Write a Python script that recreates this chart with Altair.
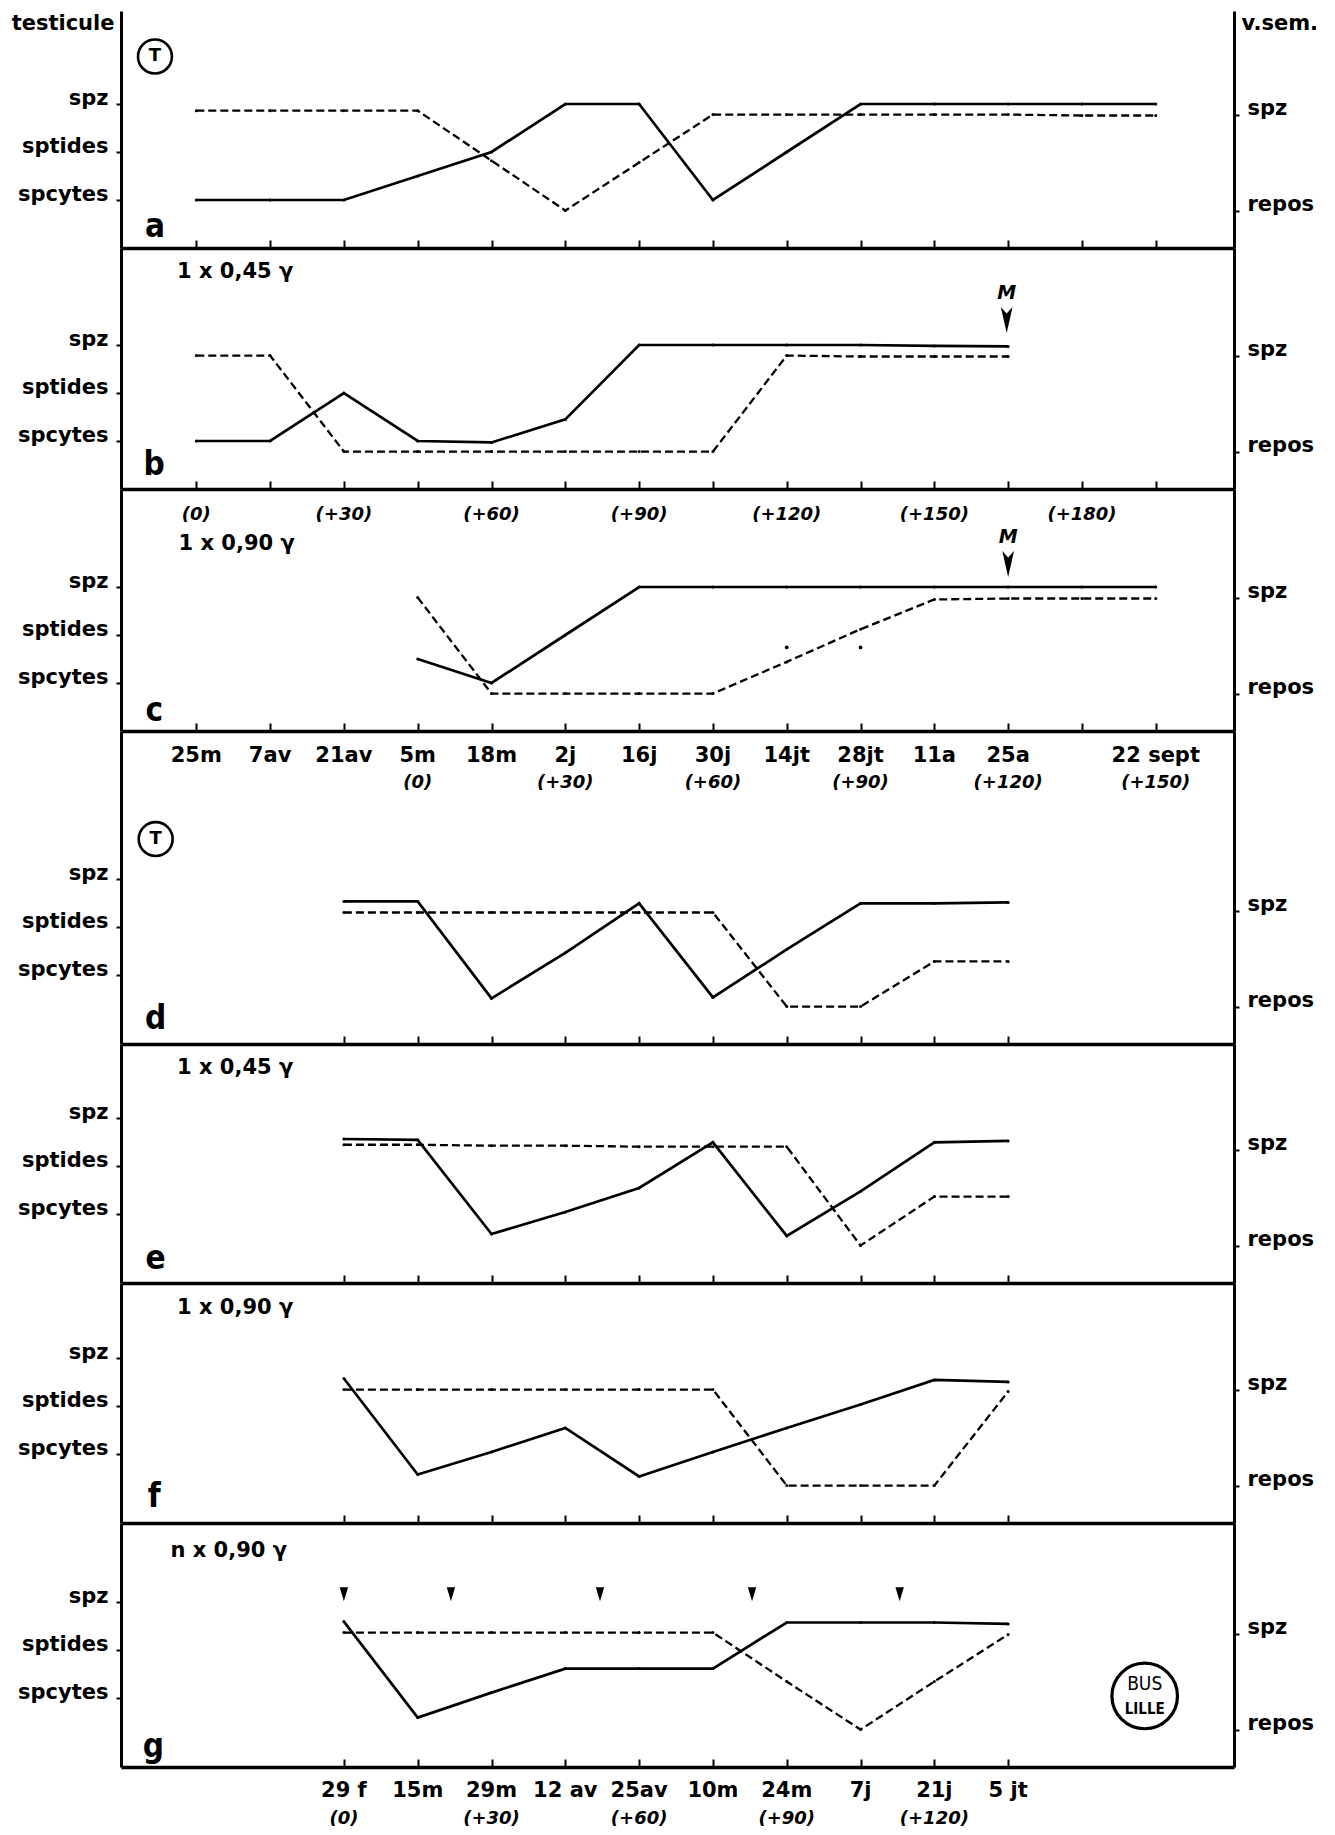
import altair as alt
import pandas as pd

# ---------------- data (x = index of the date tick, 0 = 25m) ----------------
# testicule level: 1 = spcytes, 2 = sptides, 3 = spz ; v.sem. level: 0 = repos, 1 = spz
A_T_X = [0, 1, 2, 3, 4, 5, 6, 7, 8, 9, 10, 11, 12, 13]
A_T_Y = [1, 1, 1, 1.5, 2, 3, 3, 1, 2, 3, 3, 3, 3, 3]
A_V_X = [0, 1, 2, 3, 4, 5, 6, 7, 8, 9, 10, 11, 12, 13]
A_V_Y = [1.04, 1.04, 1.04, 1.04, 0.52, 0, 0.5, 1.0, 1.0, 1.0, 1.0, 1.0, 0.99, 0.99]

B_T_X = [0, 1, 2, 3, 4, 5, 6, 7, 8, 9, 10, 11]
B_T_Y = [1, 1, 2, 1, 0.97, 1.45, 3, 3, 3, 3, 2.98, 2.97]
B_V_X = [0, 1, 2, 3, 4, 5, 6, 7, 8, 9, 10, 11]
B_V_Y = [1.0, 1.0, 0, 0, 0, 0, 0, 0, 1.0, 0.99, 0.99, 0.99]

C_T_X = [3, 4, 5, 6, 7, 8, 9, 10, 11, 12, 13]
C_T_Y = [1.5, 1, 2, 3, 3, 3, 3, 3, 3, 3, 3]
C_V_X = [3, 4, 5, 6, 7, 8, 9, 10, 11, 12, 13]
C_V_Y = [1.0, 0, 0, 0, 0, 0.33, 0.67, 0.98, 0.99, 0.99, 0.99]
C_DOT_X = [8, 9]
C_DOT_Y = [0.48, 0.48]

D_T_X = [2, 3, 4, 5, 6, 7, 8, 9, 10, 11]
D_T_Y = [2.54, 2.54, 0.52, 1.47, 2.5, 0.54, 1.54, 2.5, 2.5, 2.52]
D_V_X = [2, 3, 4, 5, 6, 7, 8, 9, 10, 11]
D_V_Y = [0.98, 0.98, 0.98, 0.98, 0.98, 0.98, 0, 0, 0.47, 0.47]

E_T_X = [2, 3, 4, 5, 6, 7, 8, 9, 10, 11]
E_T_Y = [2.57, 2.55, 0.59, 1.05, 1.55, 2.5, 0.55, 1.48, 2.5, 2.53]
E_V_X = [2, 3, 4, 5, 6, 7, 8, 9, 10, 11]
E_V_Y = [1.05, 1.05, 1.04, 1.04, 1.03, 1.03, 1.03, 0, 0.51, 0.51]

F_T_X = [2, 3, 4, 5, 6, 7, 8, 9, 10, 11]
F_T_Y = [2.58, 0.58, 1.05, 1.55, 0.54, 1.05, 1.55, 2.04, 2.55, 2.51]
F_V_X = [2, 3, 4, 5, 6, 7, 8, 9, 10, 11]
F_V_Y = [1.0, 1.0, 1.0, 1.0, 1.0, 1.0, 0, 0, 0, 0.98]

G_T_X = [2, 3, 4, 5, 6, 7, 8, 9, 10, 11]
G_T_Y = [2.6, 0.6, 1.12, 1.62, 1.62, 1.62, 2.58, 2.58, 2.58, 2.55]
G_V_X = [2, 3, 4, 5, 6, 7, 8, 9, 10, 11]
G_V_Y = [1.01, 1.01, 1.01, 1.01, 1.01, 1.01, 0.5, 0, 0.5, 0.99]
G_ARROW_X = [2, 3.45, 5.47, 7.53, 9.53]

# tick labels
C_DATES = ["25m", "7av", "21av", "5m", "18m", "2j", "16j", "30j", "14jt", "28jt", "11a", "25a", "22 sept"]
C_DATES_X = [0, 1, 2, 3, 4, 5, 6, 7, 8, 9, 10, 11, 13]
C_DAYS = ["(0)", "(+30)", "(+60)", "(+90)", "(+120)", "(+150)"]
C_DAYS_X = [3, 5, 7, 9, 11, 13]
B_DAYS = ["(0)", "(+30)", "(+60)", "(+90)", "(+120)", "(+150)", "(+180)"]
B_DAYS_X = [0, 2, 4, 6, 8, 10, 12]
G_DATES = ["29 f", "15m", "29m", "12 av", "25av", "10m", "24m", "7j", "21j", "5 jt"]
G_DATES_X = [2, 3, 4, 5, 6, 7, 8, 9, 10, 11]
G_DAYS = ["(0)", "(+30)", "(+60)", "(+90)", "(+120)"]
G_DAYS_X = [2, 4, 6, 8, 10]

TICKS_ALL = list(range(14))
TICKS_LOW = list(range(2, 12))

# ---------------- layout ----------------
X_DOMAIN = [-1.02, 14.06]
PLOT_W = 1113
UNIT_L = 48.0
UNIT_R = 96.0
R_LO = -0.39
FONT = "DejaVu Sans"
NARROW = "Liberation Sans Narrow, DejaVu Sans Condensed, DejaVu Sans"
ARROW_M = "M-0.45,-1L0,-0.5L0.45,-1L0,1Z"
ARROW_S = "M-0.6,-1L0.6,-1L0,1Z"
LAB = 21


def xenc(ticks):
    if ticks is None:
        return alt.X("x:Q", scale=alt.Scale(domain=X_DOMAIN, nice=False, zero=False), axis=None)
    ax = alt.Axis(orient="top", values=ticks, labels=False, ticks=True, tickSize=8,
                  tickWidth=2, tickColor="black", domainWidth=3.5, domainColor="black",
                  grid=False, title=None)
    return alt.X("x:Q", scale=alt.Scale(domain=X_DOMAIN, nice=False, zero=False), axis=ax)


def yleft(dom, title=None):
    kw = dict(orient="left", values=[1, 2, 3],
              labelExpr="datum.value == 1 ? 'spcytes' : (datum.value == 2 ? 'sptides' : 'spz')",
              labelFont=FONT, labelFontWeight="bold", labelFontSize=LAB, labelColor="black",
              labelBaseline="alphabetic", labelPadding=8, labelFlush=False, labelOverlap=False,
              tickSize=5, tickWidth=2, tickColor="black", domainWidth=3, domainColor="black",
              grid=False)
    if title:
        kw.update(title=title, titleAngle=0, titleAlign="right", titleBaseline="middle",
                  titleX=-7, titleY=12, titleFont=FONT, titleFontSize=LAB,
                  titleFontWeight="bold", titleColor="black")
    else:
        kw.update(title=None)
    return alt.Y("y:Q", scale=alt.Scale(domain=dom, nice=False, zero=False), axis=alt.Axis(**kw))


def yright(dom, title=None):
    kw = dict(orient="right", values=[0, 1],
              labelExpr="datum.value == 0 ? 'repos' : 'spz'",
              labelFont=FONT, labelFontWeight="bold", labelFontSize=LAB, labelColor="black",
              labelBaseline="alphabetic", labelPadding=8, labelFlush=False, labelOverlap=False,
              tickSize=5, tickWidth=2, tickColor="black", domainWidth=3, domainColor="black",
              grid=False)
    if title:
        kw.update(title=title, titleAngle=0, titleAlign="left", titleBaseline="middle",
                  titleX=7, titleY=12, titleFont=FONT, titleFontSize=LAB,
                  titleFontWeight="bold", titleColor="black")
    else:
        kw.update(title=None)
    return alt.Y("y:Q", scale=alt.Scale(domain=dom, nice=False, zero=False), axis=alt.Axis(**kw))


def text_layer(xs, ys, texts, X, Y, size=20, weight="bold", italic=False, align="center", font=FONT):
    df = pd.DataFrame({"x": xs, "y": ys, "t": texts})
    kw = dict(font=font, fontSize=size, fontWeight=weight, align=align, baseline="middle", color="black")
    if italic:
        kw["fontStyle"] = "italic"
    return alt.Chart(df).mark_text(**kw).encode(x=X, y=Y, text="t:N")


def series(xs, ys, X, Y, dashed):
    df = pd.DataFrame({"x": xs, "y": ys})
    if dashed:
        line = alt.Chart(df).mark_line(color="black", strokeWidth=2.3, strokeDash=[8, 4])
    else:
        line = alt.Chart(df).mark_line(color="black", strokeWidth=2.7)
    pts = alt.Chart(df).mark_point(filled=True, color="black", size=9, opacity=1)
    return [line.encode(x=X, y=Y), pts.encode(x=X, y=Y)]


def circled_t(x, y, X, Y):
    df = pd.DataFrame({"x": [x], "y": [y], "t": ["T"]})
    c = alt.Chart(df).mark_point(shape="circle", size=1150, filled=False, stroke="black",
                                 strokeWidth=2.6, opacity=1).encode(x=X, y=Y)
    t = alt.Chart(df).mark_text(font=FONT, fontSize=18, fontWeight="bold", color="black",
                                baseline="middle").encode(x=X, y=Y, text="t:N")
    return [c, t]


def arrows(xs, y, X, Y, shape, size):
    df = pd.DataFrame({"x": xs, "y": [y] * len(xs)})
    return alt.Chart(df).mark_point(shape=shape, size=size, filled=True, color="black",
                                    opacity=1).encode(x=X, y=Y)


def panel(H, left_lo, tx, ty, vx, vy, ticks, extra_left=None, extra_right=None,
          ltitle=None, rtitle=None):
    ldom = [left_lo, left_lo + H / UNIT_L]
    rdom = [R_LO, R_LO + H / UNIT_R]
    X = xenc(ticks)
    YL = yleft(ldom, ltitle)
    YR = yright(rdom, rtitle)
    left = series(tx, ty, X, YL, False)
    if extra_left:
        left += extra_left(X, YL)
    right = series(vx, vy, X, YR, True)
    if extra_right:
        right += extra_right(X, YR)
    return alt.layer(alt.layer(*left), alt.layer(*right)).resolve_scale(y="independent").properties(
        width=PLOT_W, height=H)


LET = dict(size=33, font=NARROW)
ANN = dict(size=21, align="left")

# panel a
def a_left(X, Y):
    return circled_t(-0.56, 3.99, X, Y) + [text_layer([-0.56], [0.44], ["a"], X, Y, **LET)]

pa = panel(237, 0, A_T_X, A_T_Y, A_V_X, A_V_Y, None, a_left, ltitle="testicule", rtitle="v.sem.")

# panel b
def b_left(X, Y):
    return [text_layer([-0.57], [0.5], ["b"], X, Y, **LET),
            text_layer([-0.26], [4.53], ["1 x 0,45 γ"], X, Y, **ANN),
            text_layer([10.98], [4.08], ["M"], X, Y, size=19, italic=True),
            arrows([10.98], 3.52, X, Y, ARROW_M, 680)]

pb = panel(241, 0, B_T_X, B_T_Y, B_V_X, B_V_Y, TICKS_ALL, b_left)

# panel c
def c_left(X, Y):
    return [text_layer([-0.57], [0.41], ["c"], X, Y, **LET),
            text_layer([-0.24], [3.9], ["1 x 0,90 γ"], X, Y, **ANN),
            text_layer(B_DAYS_X, [4.5] * len(B_DAYS_X), B_DAYS, X, Y, size=18, italic=True),
            text_layer([11], [4.05], ["M"], X, Y, size=19, italic=True),
            arrows([11], 3.48, X, Y, ARROW_M, 680)]

def c_right(X, Y):
    df = pd.DataFrame({"x": C_DOT_X, "y": C_DOT_Y})
    return [alt.Chart(df).mark_point(filled=True, color="black", size=14, opacity=1).encode(x=X, y=Y)]

pc = panel(242, 0, C_T_X, C_T_Y, C_V_X, C_V_Y, TICKS_ALL, c_left, c_right)

LO2 = -0.43

# panel d (its top area carries the date labels of panels a-c)
def d_left(X, Y):
    return circled_t(-0.55, 3.84, X, Y) + [
        text_layer([-0.55], [0.09], ["d"], X, Y, **LET),
        text_layer(C_DATES_X, [5.58] * len(C_DATES_X), C_DATES, X, Y, size=21),
        text_layer(C_DAYS_X, [5.0] * len(C_DAYS_X), C_DAYS, X, Y, size=18, italic=True)]

pd_ = panel(313, LO2, D_T_X, D_T_Y, D_V_X, D_V_Y, TICKS_ALL, d_left)

def e_left(X, Y):
    return [text_layer([-0.55], [0.07], ["e"], X, Y, **LET),
            text_layer([-0.26], [4.05], ["1 x 0,45 γ"], X, Y, **ANN)]

pe = panel(239, LO2, E_T_X, E_T_Y, E_V_X, E_V_Y, TICKS_LOW, e_left)

def f_left(X, Y):
    return [text_layer([-0.57], [0.12], ["f"], X, Y, **LET),
            text_layer([-0.26], [4.05], ["1 x 0,90 γ"], X, Y, **ANN)]

pf = panel(240, LO2, F_T_X, F_T_Y, F_V_X, F_V_Y, TICKS_LOW, f_left)

def g_left(X, Y):
    df = pd.DataFrame({"x": [12.85], "y": [1.05]})
    stamp = alt.Chart(df).mark_point(shape="circle", size=4300, filled=False, stroke="black",
                                     strokeWidth=3.2, opacity=1).encode(x=X, y=Y)
    return [text_layer([-0.58], [-0.02], ["g"], X, Y, **LET),
            text_layer([-0.35], [4.07], ["n x 0,90 γ"], X, Y, **ANN),
            arrows(G_ARROW_X, 3.17, X, Y, ARROW_S, 196),
            stamp,
            text_layer([12.85], [1.3], ["BUS"], X, Y, size=19, weight="normal", font=NARROW),
            text_layer([12.85], [0.78], ["LILLE"], X, Y, size=15, weight="bold", font=NARROW)]

pg = panel(244, LO2, G_T_X, G_T_Y, G_V_X, G_V_Y, TICKS_LOW, g_left)

# bottom strip: date labels of panels d-g and the bottom ticks of g
XH = xenc(TICKS_LOW)
YH = alt.Y("y:Q", scale=alt.Scale(domain=[-0.28, 1.86], nice=False, zero=False), axis=None)
ph = alt.layer(
    text_layer(G_DATES_X, [1] * len(G_DATES_X), G_DATES, XH, YH, size=21),
    text_layer(G_DAYS_X, [0] * len(G_DAYS_X), G_DAYS, XH, YH, size=18, italic=True),
).properties(width=PLOT_W, height=60)

chart = alt.vconcat(pa, pb, pc, pd_, pe, pf, pg, ph, spacing=0, bounds="flush").properties(
    padding={"left": 3, "top": 3, "right": 5, "bottom": 0}
).configure_view(stroke=None)

chart.save("out.html", embed_options={"renderer": "svg", "actions": False})
